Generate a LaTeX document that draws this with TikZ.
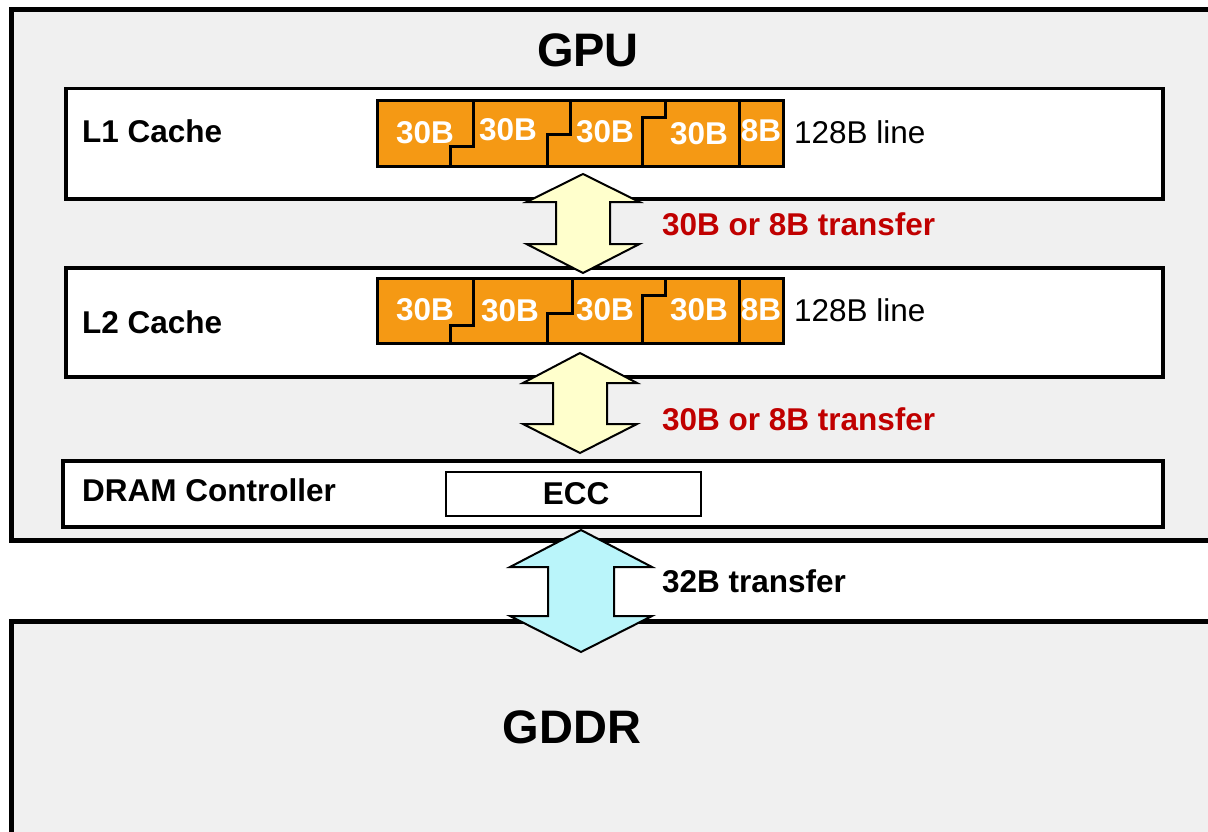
\documentclass[tikz,border=0pt]{standalone}
\usepackage{fontspec}
\setmainfont{Liberation Sans}
\definecolor{panel}{HTML}{F0F0F0}
\definecolor{segorange}{RGB}{245,153,20}
\definecolor{arrowyellow}{HTML}{FFFFCC}
\definecolor{arrowcyan}{RGB}{186,245,250}
\definecolor{xferred}{HTML}{C00000}

% double-headed block arrow: centre x, top tip, top wings, bottom wings, bottom tip, half wing, half shaft, fill
\newcommand\xferarrow[8]{%
  \draw[arrowbody,fill=#8] (#1,#2) -- (#1+#6,#3) -- (#1+#7,#3) -- (#1+#7,#4) -- (#1+#6,#4)
    -- (#1,#5) -- (#1-#6,#4) -- (#1-#7,#4) -- (#1-#7,#3) -- (#1-#6,#3) -- cycle;}

\begin{document}
\begin{tikzpicture}[x=1pt,y=-1pt,
  chip/.style={draw=black,line width=5pt,fill=panel},
  unit/.style={draw=black,line width=3.5pt,fill=white,inner sep=0pt,anchor=north west},
  eccbox/.style={draw=black,line width=2pt,fill=white,inner sep=0pt,anchor=north west},
  bar/.style={draw=black,line width=3pt,fill=segorange},
  seam/.style={draw=black,line width=3pt},
  arrowbody/.style={draw=black,line width=2pt,line join=miter},
  lbl/.style={font=\fontsize{31.5}{36}\selectfont\bfseries,inner sep=0pt},
  plain/.style={font=\fontsize{31.5}{36}\selectfont,inner sep=0pt},
  seg/.style={lbl,text=white,anchor=base},
  title/.style={font=\fontsize{47}{56}\selectfont\bfseries,inner sep=0pt,anchor=base}]

\useasboundingbox (0,0) rectangle (1208,832);
\clip (0,0) rectangle (1208,832);
\fill[white] (0,0) rectangle (1208,832);

% GPU chip and memory package (both run past the right edge)
\draw[chip] (11,10) rectangle (1240,540);
\draw[chip] (11,621) rectangle (1240,860);
\node[title] (gpu) at (588,67) {GPU};
\node[title] (gddr) at (572,743) {GDDR};

% cache levels and memory controller
\node[unit,minimum width=1097pt,minimum height=110pt] (l1) at (64,87) {};
\node[unit,minimum width=1097pt,minimum height=109pt] (l2) at (64,266) {};
\node[unit,minimum width=1100pt,minimum height=66pt] (dram) at (61,459) {};
\node[eccbox,minimum width=255pt,minimum height=44pt] (ecc) at (445,471) {};

\node[lbl,anchor=base west] (l1lbl) at (82,143) {L1 Cache};
\node[lbl,anchor=base west] (l2lbl) at (82,333) {L2 Cache};
\node[lbl,anchor=base west] (dramlbl) at (82,501) {DRAM Controller};
\node[lbl,anchor=base] (ecclbl) at (576,504) {ECC};

% L1 128B line split into sectors
\draw[bar] (377,101) rectangle (783,167);
\draw[seam] (473,101) -- (473,147) -- (450,147) -- (450,167);
\draw[seam] (570,101) -- (570,135) -- (547,135) -- (547,167);
\draw[seam] (665,101) -- (665,118) -- (642,118) -- (642,167);
\draw[seam] (739,101) -- (739,167);
\node[seg] (l1a) at (425,144) {30B};
\node[seg] (l1b) at (508,141) {30B};
\node[seg] (l1c) at (605,143) {30B};
\node[seg] (l1d) at (699,145) {30B};
\node[seg] (l1e) at (761,142) {8B};
\node[plain,anchor=base west] (l1line) at (794,144) {128B line};

% L2 128B line split into sectors
\draw[bar] (377,278) rectangle (783,343);
\draw[seam] (473,278) -- (473,325) -- (450,325) -- (450,343);
\draw[seam] (572,278) -- (572,313) -- (547,313) -- (547,343);
\draw[seam] (665,278) -- (665,295) -- (642,295) -- (642,343);
\draw[seam] (739,278) -- (739,343);
\node[seg] (l2a) at (425,320) {30B};
\node[seg] (l2b) at (510,321) {30B};
\node[seg] (l2c) at (605,320) {30B};
\node[seg] (l2d) at (699,320) {30B};
\node[seg] (l2e) at (761,320) {8B};
\node[plain,anchor=base west] (l2line) at (794,321) {128B line};

% transfers between levels
\xferarrow{583}{174}{202}{244}{273}{56.5}{27}{arrowyellow}
\xferarrow{580}{353}{383}{424}{453}{57}{27}{arrowyellow}
\xferarrow{581}{530}{567}{616}{652}{71}{33}{arrowcyan}

\node[lbl,text=xferred,anchor=base west] (x1) at (662,235) {30B or 8B transfer};
\node[lbl,text=xferred,anchor=base west] (x2) at (662,430) {30B or 8B transfer};
\node[lbl,anchor=base west] (x3) at (662,592) {32B transfer};
\end{tikzpicture}
\end{document}
